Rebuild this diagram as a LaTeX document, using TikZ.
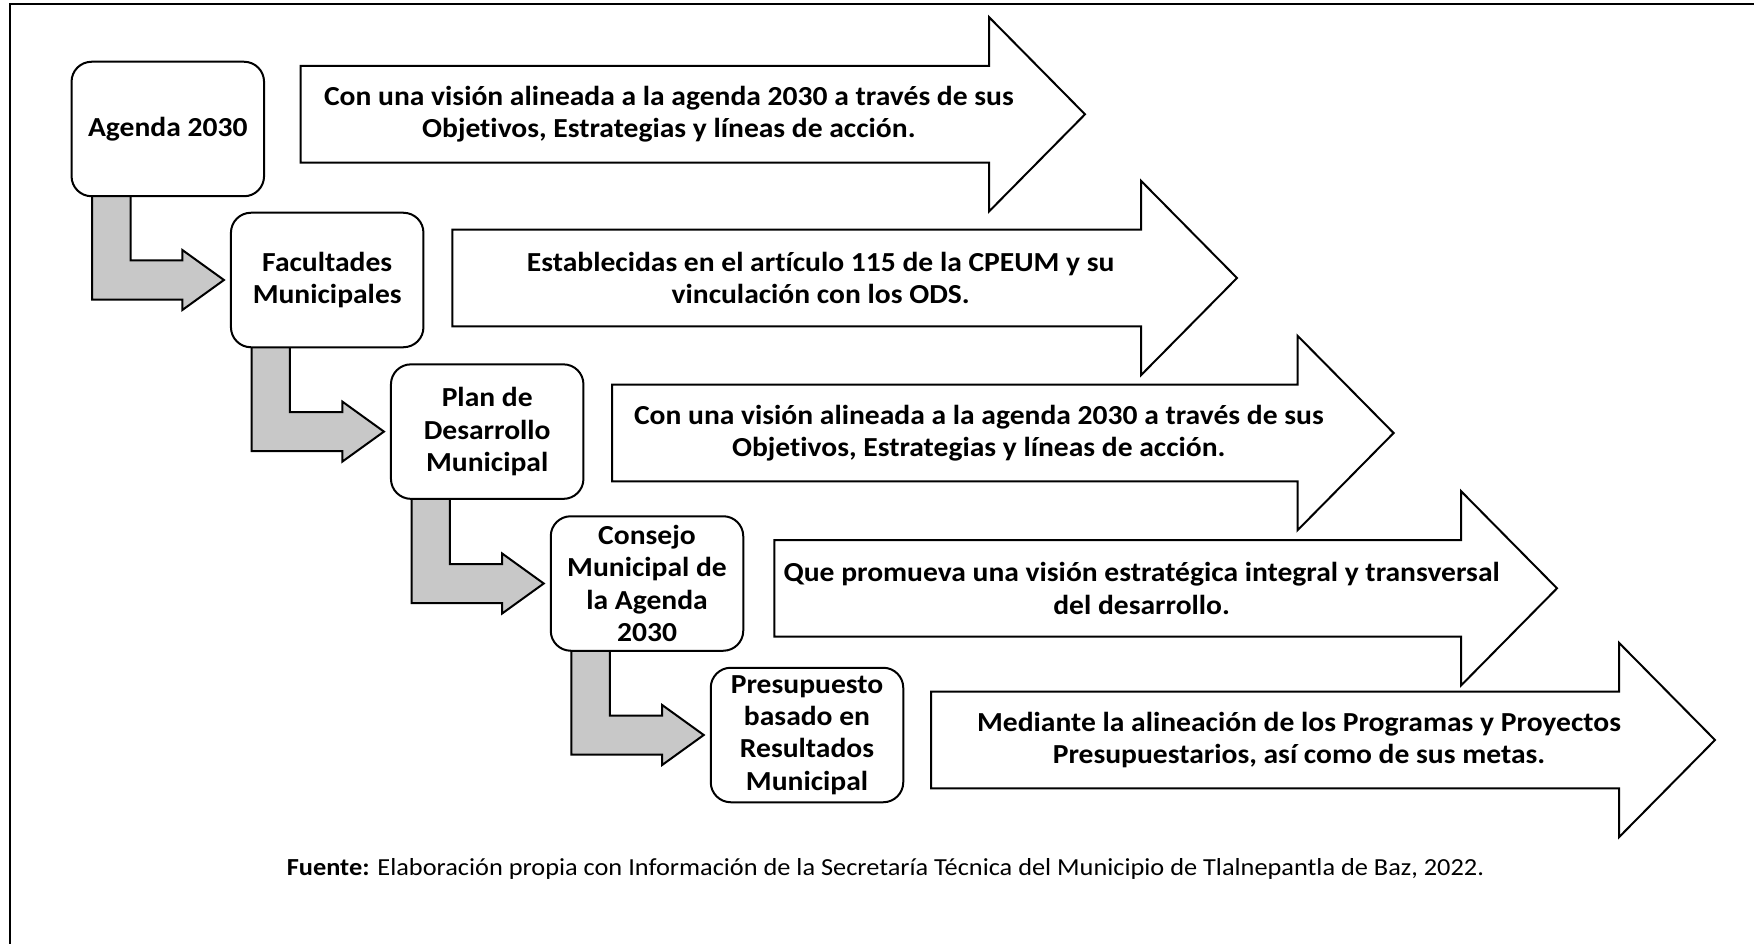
\documentclass[tikz,border=0pt]{standalone}
\usepackage{fontspec}
\setmainfont{Carlito}[Ligatures=NoCommon]
\newfontfamily\stretchfam{Carlito}[FakeStretch=1.075,Ligatures=NoCommon]
\usetikzlibrary{calc}
\definecolor{greyfill}{RGB}{200,200,200}
\newcommand\boxfont{\stretchfam\fontsize{27.5}{32.4}\selectfont\bfseries}
\newcommand\capfont{\stretchfam\fontsize{24.5}{28}\selectfont}
% big white arrow: #1 left x, #2 head base x, #3 centre y, #4 name, #5 text
\newcommand\bigarr[5]{%
  \draw[bigarrow] (#1,#3-48.3) -- (#2,#3-48.3) -- (#2,#3-97.2) -- (#2+96,#3)
     -- (#2,#3+97.2) -- (#2,#3+48.3) -- (#1,#3+48.3) -- cycle;
  \node[arrtext] (#4) at ({(#1+#2+96)/2-24},#3) {#5};}
% grey bent connector from box #1 to box #2
\newcommand\greyarr[2]{%
  \path ($(#1.south west)+(21.6,-2)$) coordinate (#1p1)
        ($(#2.west)+(-6,0)$) coordinate (#1tip);
  \draw[greyarrow] (#1p1) -- ++(38.4,0) |- ($(#1tip)+(-41.6,-19.5)$) -- ++(0,-10.5)
     -- (#1tip) -- ++(-41.6,30) -- ++(0,-10.5) -- ($(#1p1 |- #1tip)+(0,19.5)$) -- cycle;}
\begin{document}
\begin{tikzpicture}[x=1pt,y=-1pt,line join=miter,
  stepbox/.style={draw,line width=2pt,rounded corners=20pt,fill=white,
    minimum width=192.5pt,minimum height=134.5pt,inner sep=0pt,align=center,font=\boxfont},
  arrtext/.style={align=center,font=\boxfont,inner sep=0pt},
  bigarrow/.style={draw,line width=2pt,fill=white},
  greyarrow/.style={draw,line width=2pt,fill=greyfill}]
\useasboundingbox (0,0) rectangle (1754,944);
\fill[white] (0,0) rectangle (1754,944);
\draw[line width=1.8pt] (10,944) -- (10,4) -- (1754,4);

% big arrows
\bigarr{300.7}{989}{114.3}{t1}{Con una visión alineada a la agenda 2030 a través de sus\\Objetivos, Estrategias y líneas de acción.}
\bigarr{452.3}{1141}{278}{t2}{Establecidas en el artículo 115 de la CPEUM y su\\vinculación con los ODS.}
\bigarr{612}{1297.6}{433}{t3}{Con una visión alineada a la agenda 2030 a través de sus\\Objetivos, Estrategias y líneas de acción.}
\bigarr{774.3}{1461}{588.3}{t4}{Que promueva una visión estratégica integral y transversal\\del desarrollo.}
\bigarr{931}{1619}{740}{t5}{Mediante la alineación de los Programas y Proyectos\\Presupuestarios, así como de sus metas.}

% box positions; invisible placeholders first so connectors lie beneath the boxes
\path (167.8,129) coordinate (c1) (327.2,280) coordinate (c2) (487.2,431.6) coordinate (c3)
      (647,583.5) coordinate (c4) (807,735) coordinate (c5);
\node[stepbox,draw=none,fill=none] (b1) at (c1) {};
\node[stepbox,draw=none,fill=none] (b2) at (c2) {};
\node[stepbox,draw=none,fill=none] (b3) at (c3) {};
\node[stepbox,draw=none,fill=none] (b4) at (c4) {};
\node[stepbox,draw=none,fill=none] (b5) at (c5) {};
\greyarr{b1}{b2}
\greyarr{b2}{b3}
\greyarr{b3}{b4}
\greyarr{b4}{b5}

\node[stepbox] (n1) at (c1) {Agenda 2030};
\node[stepbox] (n2) at (c2) {Facultades\\Municipales};
\node[stepbox] (n3) at (c3) {Plan de\\Desarrollo\\Municipal};
\node[stepbox] (n4) at (c4) {Consejo\\Municipal de\\la Agenda\\2030};
\node[stepbox] (n5) at (c5) {Presupuesto\\basado en\\Resultados\\Municipal};

\node[inner sep=0pt,font=\capfont] (src) at (885.5,869)
  {\textbf{Fuente:} Elaboración propia con Información de la Secretaría Técnica del Municipio de Tlalnepantla de Baz, 2022.};
\end{tikzpicture}
\end{document}
